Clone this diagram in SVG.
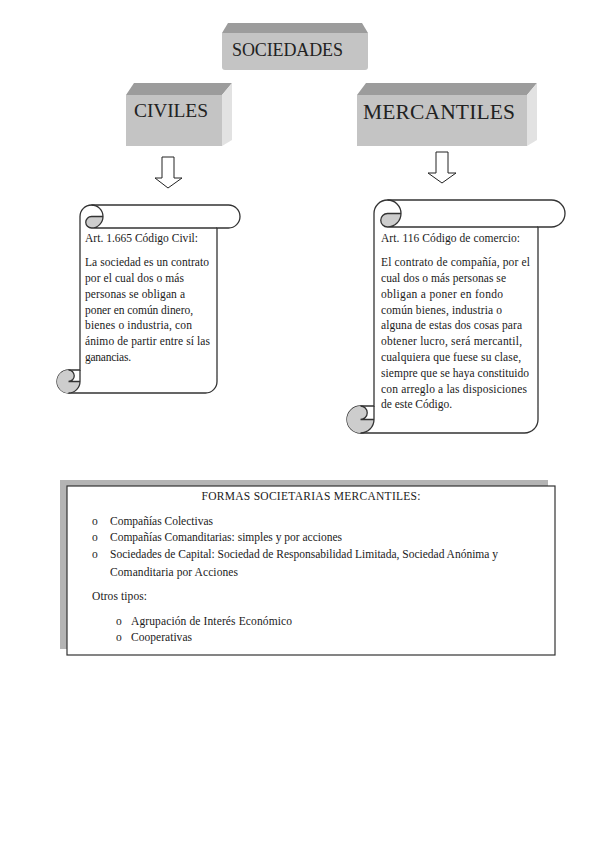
<svg xmlns="http://www.w3.org/2000/svg" width="599" height="848" viewBox="0 0 599 848">
<style>
.top{fill:#9c9c9c}
.front{fill:#c4c4c4}
.side{fill:#e2e2e2}
.big{font-family:"Liberation Serif",serif;fill:#222}
.t{font-family:"Liberation Serif",serif;font-size:11.5px;fill:#1a1a1a}
.scroll{fill:#fff;stroke:#333;stroke-width:1.3}
.curl{fill:#cdcdcd;stroke:none}
.line{fill:none;stroke:#333;stroke-width:1.3}
.arrow{fill:#fff;stroke:#222;stroke-width:1}
</style>
<rect width="599" height="848" fill="#fff"/>

<g id="sociedades">
<path class="top" d="M228,23 L362,23 L368,33 L222,33 Z"/>
<path class="front" d="M222,33 L368,33 L368,67 Q368,70 365,70 L225,70 Q222,70 222,67 Z"/>
<text class="big" x="232" y="56" font-size="18" textLength="111" lengthAdjust="spacing">SOCIEDADES</text>
</g>

<g id="civiles">
<path class="top" d="M134,83 L232,83 L222,95 L126,95 Z"/>
<path class="front" d="M126,95 L222,95 L222,146 L126,146 Z"/>
<path class="side" d="M222,95 L232,83 L232,140 L222,146 Z"/>
<text class="big" x="134" y="117" font-size="19.5" textLength="74" lengthAdjust="spacing">CIVILES</text>
</g>

<g id="mercantiles">
<path class="top" d="M366,83 L537,83 L527,95 L357,95 Z"/>
<path class="front" d="M357,95 L527,95 L527,146 L357,146 Z"/>
<path class="side" d="M527,95 L537,83 L537,140 L527,146 Z"/>
<text class="big" x="363" y="119" font-size="21.5" textLength="152" lengthAdjust="spacing">MERCANTILES</text>
</g>

<g id="connectors">
<path class="arrow" d="M162,157 L174,157 L174,178 L182,178 L168,188 L155,178 L162,178 Z"/>
<path class="arrow" d="M436,152 L448,152 L448,173 L456,173 L442,183 L428,173 L436,173 Z"/>
</g>

<g id="scroll-civil">
<path class="scroll" d="M80,370 L80,216.5 A11.5,11.5 0 0 1 91.5,205 L228.5,205 A11.5,11.5 0 0 1 228.5,228 L217,228 L217,381.5 A11.5,11.5 0 0 1 205.5,393 L68.5,393 A11.5,11.5 0 0 1 68.5,370 Z"/>
<path class="curl" d="M103,216.5 A11.5,11.5 0 0 1 91.5,228 A5.75,5.75 0 0 1 91.5,216.5 Z"/>
<path class="curl" d="M80,381.5 A11.5,11.5 0 1 1 68.5,370 A5.75,5.75 0 0 1 68.5,381.5 Z"/>
<path class="line" d="M91.5,205 A11.5,11.5 0 0 1 91.5,228 A5.75,5.75 0 0 1 91.5,216.5 L103,216.5 M217,228 L91.5,228 M68.5,370 A5.75,5.75 0 0 1 68.5,381.5 L80,381.5 M68.5,393 A11.5,11.5 0 0 0 80,381.5 L80,370"/>
<text class="t" x="85" y="242" textLength="113" lengthAdjust="spacing">Art. 1.665 Código Civil:</text>
<text class="t" x="85" y="266" textLength="124" lengthAdjust="spacing">La sociedad es un contrato</text>
<text class="t" x="85" y="282" textLength="99" lengthAdjust="spacing">por el cual dos o más</text>
<text class="t" x="85" y="297.5" textLength="100" lengthAdjust="spacing">personas se obligan a</text>
<text class="t" x="85" y="313.5" textLength="108" lengthAdjust="spacing">poner en común dinero,</text>
<text class="t" x="85" y="329" textLength="107" lengthAdjust="spacing">bienes o industria, con</text>
<text class="t" x="85" y="345" textLength="125" lengthAdjust="spacing">ánimo de partir entre sí las</text>
<text class="t" x="85" y="361" textLength="46" lengthAdjust="spacing">ganancias.</text>
</g>

<g id="scroll-mercantil">
<path class="scroll" d="M374,406 L374,213.5 A13.5,13.5 0 0 1 387.5,200 L551.5,200 A13.5,13.5 0 0 1 551.5,227 L538,227 L538,419.5 A13.5,13.5 0 0 1 524.5,433 L360.5,433 A13.5,13.5 0 0 1 360.5,406 Z"/>
<path class="curl" d="M401,213.5 A13.5,13.5 0 0 1 387.5,227 A6.75,6.75 0 0 1 387.5,213.5 Z"/>
<path class="curl" d="M374,419.5 A13.5,13.5 0 1 1 360.5,406 A6.75,6.75 0 0 1 360.5,419.5 Z"/>
<path class="line" d="M387.5,200 A13.5,13.5 0 0 1 387.5,227 A6.75,6.75 0 0 1 387.5,213.5 L401,213.5 M538,227 L387.5,227 M360.5,406 A6.75,6.75 0 0 1 360.5,419.5 L374,419.5 M360.5,433 A13.5,13.5 0 0 0 374,419.5 L374,406"/>
<text class="t" x="381" y="242" textLength="139" lengthAdjust="spacing">Art. 116 Código de comercio:</text>
<text class="t" x="381" y="266" textLength="149" lengthAdjust="spacing">El contrato de compañía, por el</text>
<text class="t" x="381" y="282" textLength="125" lengthAdjust="spacing">cual dos o más personas se</text>
<text class="t" x="381" y="297.5" textLength="122" lengthAdjust="spacing">obligan a poner en fondo</text>
<text class="t" x="381" y="313.5" textLength="121" lengthAdjust="spacing">común bienes, industria o</text>
<text class="t" x="381" y="329" textLength="141" lengthAdjust="spacing">alguna de estas dos cosas para</text>
<text class="t" x="381" y="345" textLength="141" lengthAdjust="spacing">obtener lucro, será mercantil,</text>
<text class="t" x="381" y="361" textLength="140" lengthAdjust="spacing">cualquiera que fuese su clase,</text>
<text class="t" x="381" y="376.5" textLength="148" lengthAdjust="spacing">siempre que se haya constituido</text>
<text class="t" x="381" y="392.5" textLength="146" lengthAdjust="spacing">con arreglo a las disposiciones</text>
<text class="t" x="381" y="408" textLength="71" lengthAdjust="spacing">de este Código.</text>
</g>

<g id="formas">
<rect x="60" y="480" width="488" height="169" fill="#b4b4b4"/>
<rect x="67" y="486" width="488" height="169" fill="#fff" stroke="#333" stroke-width="1.2"/>
<text class="t" x="311" y="500" text-anchor="middle" font-size="12" textLength="219" lengthAdjust="spacing">FORMAS SOCIETARIAS MERCANTILES:</text>
<text class="t" x="92" y="525">o</text>
<text class="t" x="110" y="525" textLength="103" lengthAdjust="spacing">Compañías Colectivas</text>
<text class="t" x="92" y="541">o</text>
<text class="t" x="110" y="541" textLength="232" lengthAdjust="spacing">Compañías Comanditarias: simples y por acciones</text>
<text class="t" x="92" y="558">o</text>
<text class="t" x="110" y="558" textLength="388" lengthAdjust="spacing">Sociedades de Capital: Sociedad de Responsabilidad Limitada, Sociedad Anónima y</text>
<text class="t" x="110" y="576" textLength="128" lengthAdjust="spacing">Comanditaria por Acciones</text>
<text class="t" x="92" y="600" textLength="55" lengthAdjust="spacing">Otros tipos:</text>
<text class="t" x="116" y="625">o</text>
<text class="t" x="131" y="625" textLength="161" lengthAdjust="spacing">Agrupación de Interés Económico</text>
<text class="t" x="116" y="641">o</text>
<text class="t" x="131" y="641" textLength="61" lengthAdjust="spacing">Cooperativas</text>
</g>
</svg>
